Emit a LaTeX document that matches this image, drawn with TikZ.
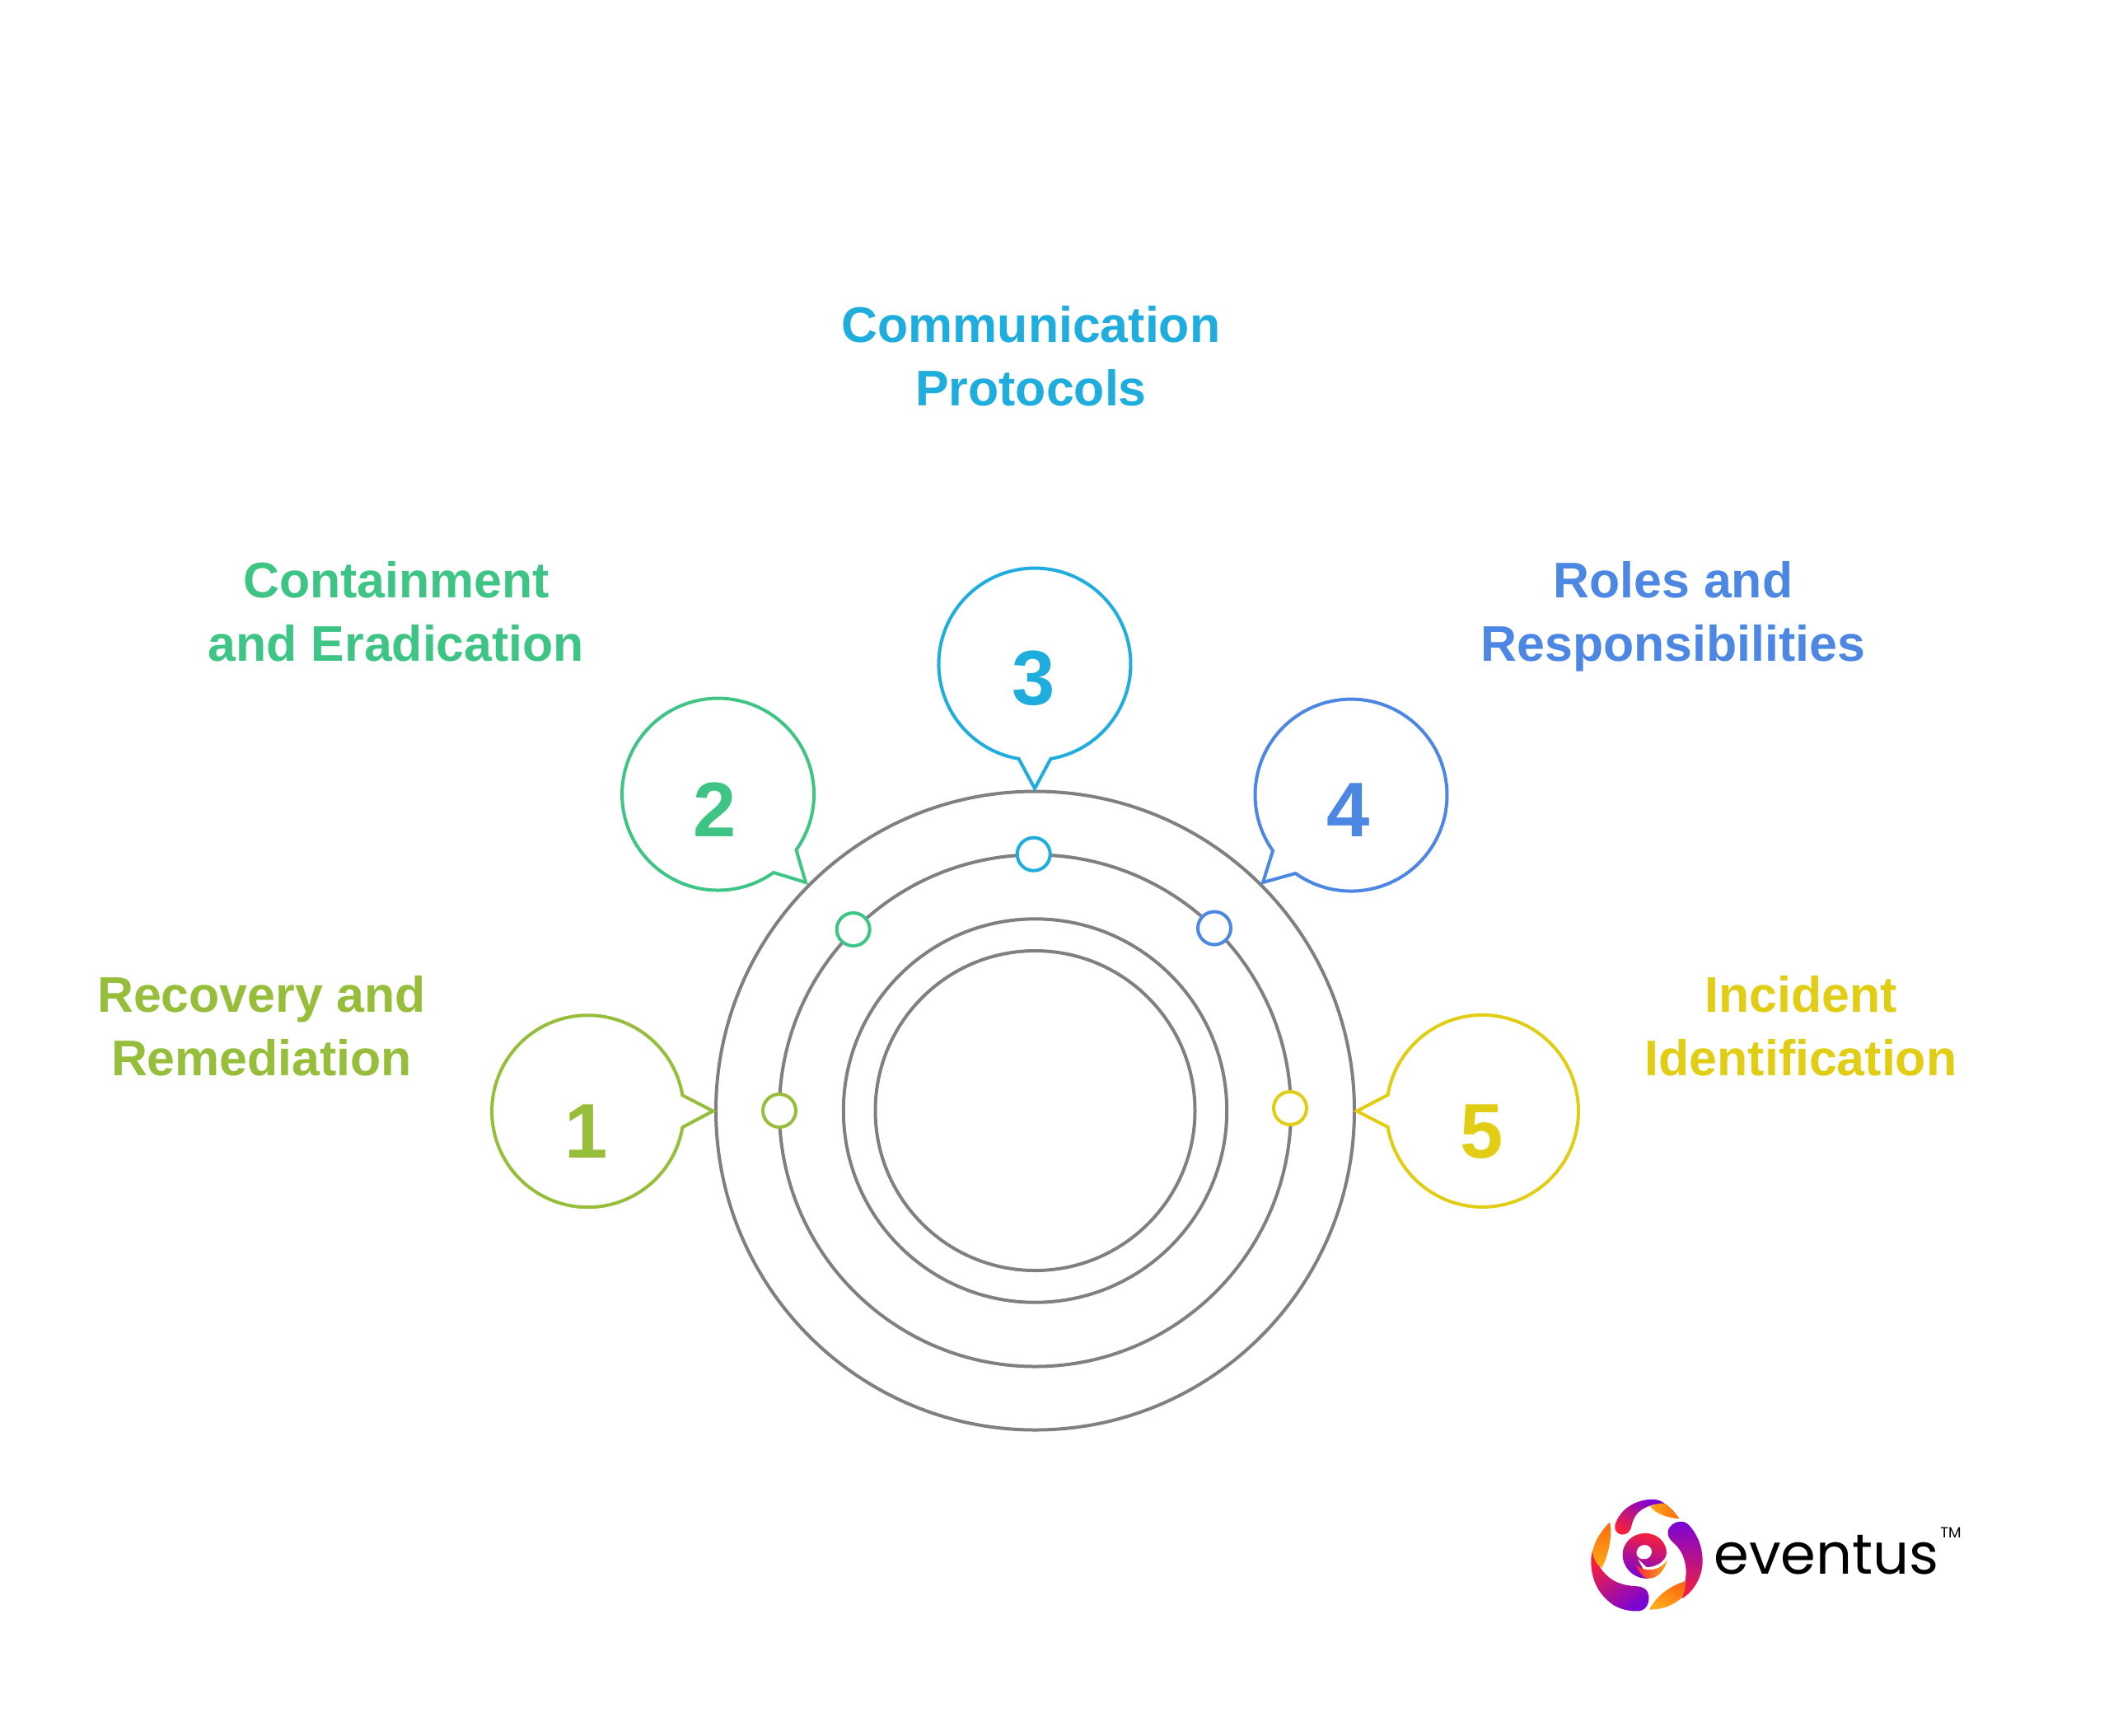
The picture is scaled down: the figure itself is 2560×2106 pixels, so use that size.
\documentclass[tikz,border=0pt]{standalone}
\usepackage{fontspec}
\setmainfont{Liberation Sans}
\newfontfamily\logofont{Poppins}
\definecolor{cOne}{HTML}{96BE3A}
\definecolor{cTwo}{HTML}{3EC585}
\definecolor{cThree}{HTML}{1FADDE}
\definecolor{cFour}{HTML}{4C87E3}
\definecolor{cFive}{HTML}{E0CD14}
\definecolor{ringgray}{HTML}{808080}
\definecolor{lgPurple}{HTML}{7A04D4}
\definecolor{lgPink}{HTML}{EC3584}
\definecolor{lgRed}{HTML}{F8203C}
\definecolor{lgOrange}{HTML}{FA6A10}
\definecolor{lgAmber}{HTML}{FFAB18}
\tikzset{
  x=0.5pt,y=0.5pt,
  ringline/.style={draw=ringgray,line width=2pt},
  bubble/.style={draw=#1,fill=white,line width=2pt,line join=miter},
  dotmark/.style={circle,draw=#1,fill=white,line width=2pt,minimum size=20pt,inner sep=0pt},
  numlabel/.style={anchor=base,text=#1,inner sep=0pt,font=\fontsize{47}{47}\selectfont\bfseries},
  steplabel/.style={anchor=base,text=#1,inner sep=0pt,align=center,font=\fontsize{30.4}{38.5}\selectfont\bfseries},
}
\begin{document}
\begin{tikzpicture}
\useasboundingbox (0,0) rectangle (2560,-2106);
\fill[white] (0,0) rectangle (2560,-2106);
\coordinate (ctr) at (1256.5,-1348);
\draw[ringline] (ctr) circle[radius=387.5];
\draw[ringline] (ctr) circle[radius=310.5];
\draw[ringline] (ctr) circle[radius=232.7];
\draw[ringline] (ctr) circle[radius=194];

\node[dotmark=cOne] (d1) at (946,-1348) {};
\node[dotmark=cTwo] (d2) at (1035.7,-1128) {};
\node[dotmark=cThree] (d3) at (1254.7,-1036.7) {};
\node[dotmark=cFour] (d4) at (1474,-1126.5) {};
\node[dotmark=cFive] (d5) at (1566,-1345) {};

\coordinate (t1) at (865.5,-1348.5);
\coordinate (t2) at (978,-1071);
\coordinate (t3) at (1256,-957);
\coordinate (t4) at (1533,-1071);
\coordinate (t5) at (1647,-1348.5);

\draw[bubble=cOne] (t1) -- (828.4,-1329.3) arc[start angle=9.6,end angle=350.4,radius=116.5] -- cycle;
\draw[bubble=cTwo] (t2) -- (966.5,-1031.5) arc[start angle=-35.4,end angle=305.4,radius=116.5] -- cycle;
\draw[bubble=cThree] (t3) -- (1275.4,-920.9) arc[start angle=-80.4,end angle=260.4,radius=116.5] -- cycle;
\draw[bubble=cFour] (t4) -- (1572.5,-1060) arc[start angle=-125.4,end angle=215.4,radius=116.5] -- cycle;
\draw[bubble=cFive] (t5) -- (1684.6,-1329) arc[start angle=170.4,end angle=-170.4,radius=116.5] -- cycle;

\node[numlabel=cOne] (n1) at (712,-1405) {1};
\node[numlabel=cTwo] (n2) at (868,-1015) {2};
\node[numlabel=cThree] (n3) at (1255,-855) {3};
\node[numlabel=cFour] (n4) at (1637,-1015) {4};
\node[numlabel=cFive] (n5) at (1799,-1405) {5};

\node[steplabel=cOne] (l1) at (317.5,-1305.5) {Recovery and\\Remediation};
\node[steplabel=cTwo] (l2) at (481,-802.5) {Containment\\and Eradication};
\node[steplabel=cThree] (l3) at (1251.5,-492.5) {Communication\\Protocols};
\node[steplabel=cFour] (l4) at (2031,-802.5) {Roles and\\Responsibilities};
\node[steplabel=cFive] (l5) at (2186,-1305.5) {Incident\\Identification};

% logo
\begin{scope}[shift={(1880,-1780)},xscale=0.3444,yscale=-0.337]
\shade[left color=lgPurple,middle color=lgPink,right color=lgRed,shading angle=-30]
 (233,212) .. controls (250,150) and (310,118) .. (365,118)
 .. controls (385,118) and (400,125) .. (410,135)
 -- (370,137) .. controls (320,150) and (300,175) .. (292,212)
 .. controls (288,235) and (275,245) .. (258,245)
 .. controls (240,243) and (230,228) .. (233,212) -- cycle;
\shade[left color=lgAmber,right color=lgOrange]
 (357,143) .. controls (375,135) and (395,130) .. (410,133)
 .. controls (430,148) and (448,168) .. (460,188)
 .. controls (420,185) and (375,170) .. (357,143) -- cycle;
\shade[left color=lgRed,middle color=lgPink,right color=lgPurple,shading angle=35]
 (150,320) .. controls (145,370) and (155,450) .. (230,500)
 .. controls (265,520) and (300,522) .. (320,520)
 .. controls (345,515) and (355,490) .. (352,465)
 .. controls (350,445) and (335,432) .. (310,431)
 .. controls (250,428) and (205,410) .. (170,345) -- (155,300) -- cycle;
\shade[top color=lgOrange,bottom color=lgAmber]
 (215,200) .. controls (185,230) and (160,270) .. (155,305)
 .. controls (155,330) and (170,355) .. (187,365)
 .. controls (210,320) and (225,250) .. (215,200) -- cycle;
\shade[top color=lgPurple,middle color=lgPink,bottom color=lgRed]
 (420,235) .. controls (422,212) and (445,198) .. (465,198)
 .. controls (480,198) and (490,205) .. (500,218)
 .. controls (530,255) and (543,300) .. (542,345)
 .. controls (540,400) and (510,450) .. (470,475)
 -- (480,412) .. controls (490,370) and (480,310) .. (440,275)
 .. controls (425,262) and (418,250) .. (420,235) -- cycle;
\shade[left color=lgOrange,right color=lgAmber,shading angle=-30]
 (354,515) .. controls (380,465) and (425,430) .. (483,412)
 .. controls (482,440) and (475,460) .. (468,473)
 .. controls (430,505) and (395,515) .. (354,515) -- cycle;
\shade[left color=lgRed,middle color=lgPink,right color=lgPurple,shading angle=-15]
 (350,403) .. controls (295,405) and (260,360) .. (260,318)
 .. controls (260,275) and (295,240) .. (340,240)
 .. controls (385,240) and (415,275) .. (415,310)
 .. controls (415,335) and (385,362) .. (345,362)
 -- (312,330) -- cycle;
\fill[white] (312,322) .. controls (303,302) and (318,282) .. (337,282)
 .. controls (352,282) and (364,294) .. (363,308)
 .. controls (361,326) and (348,333) .. (335,333)
 .. controls (325,333) and (316,330) .. (312,322) -- cycle;
\shade[left color=lgRed,right color=lgAmber]
 (305,352) .. controls (320,385) and (335,403) .. (352,403)
 .. controls (385,403) and (410,370) .. (418,335)
 .. controls (395,375) and (340,385) .. (305,352) -- cycle;
\end{scope}
\node[anchor=base west,inner sep=0pt,font=\logofont\fontsize{34.4}{35}\selectfont] (logotext) at (2080,-1910) {eventus};
\node[anchor=base west,inner sep=0pt,font=\logofont\fontsize{9}{9}\selectfont] (logotm) at (2355,-1866) {TM};
\end{tikzpicture}
\end{document}
